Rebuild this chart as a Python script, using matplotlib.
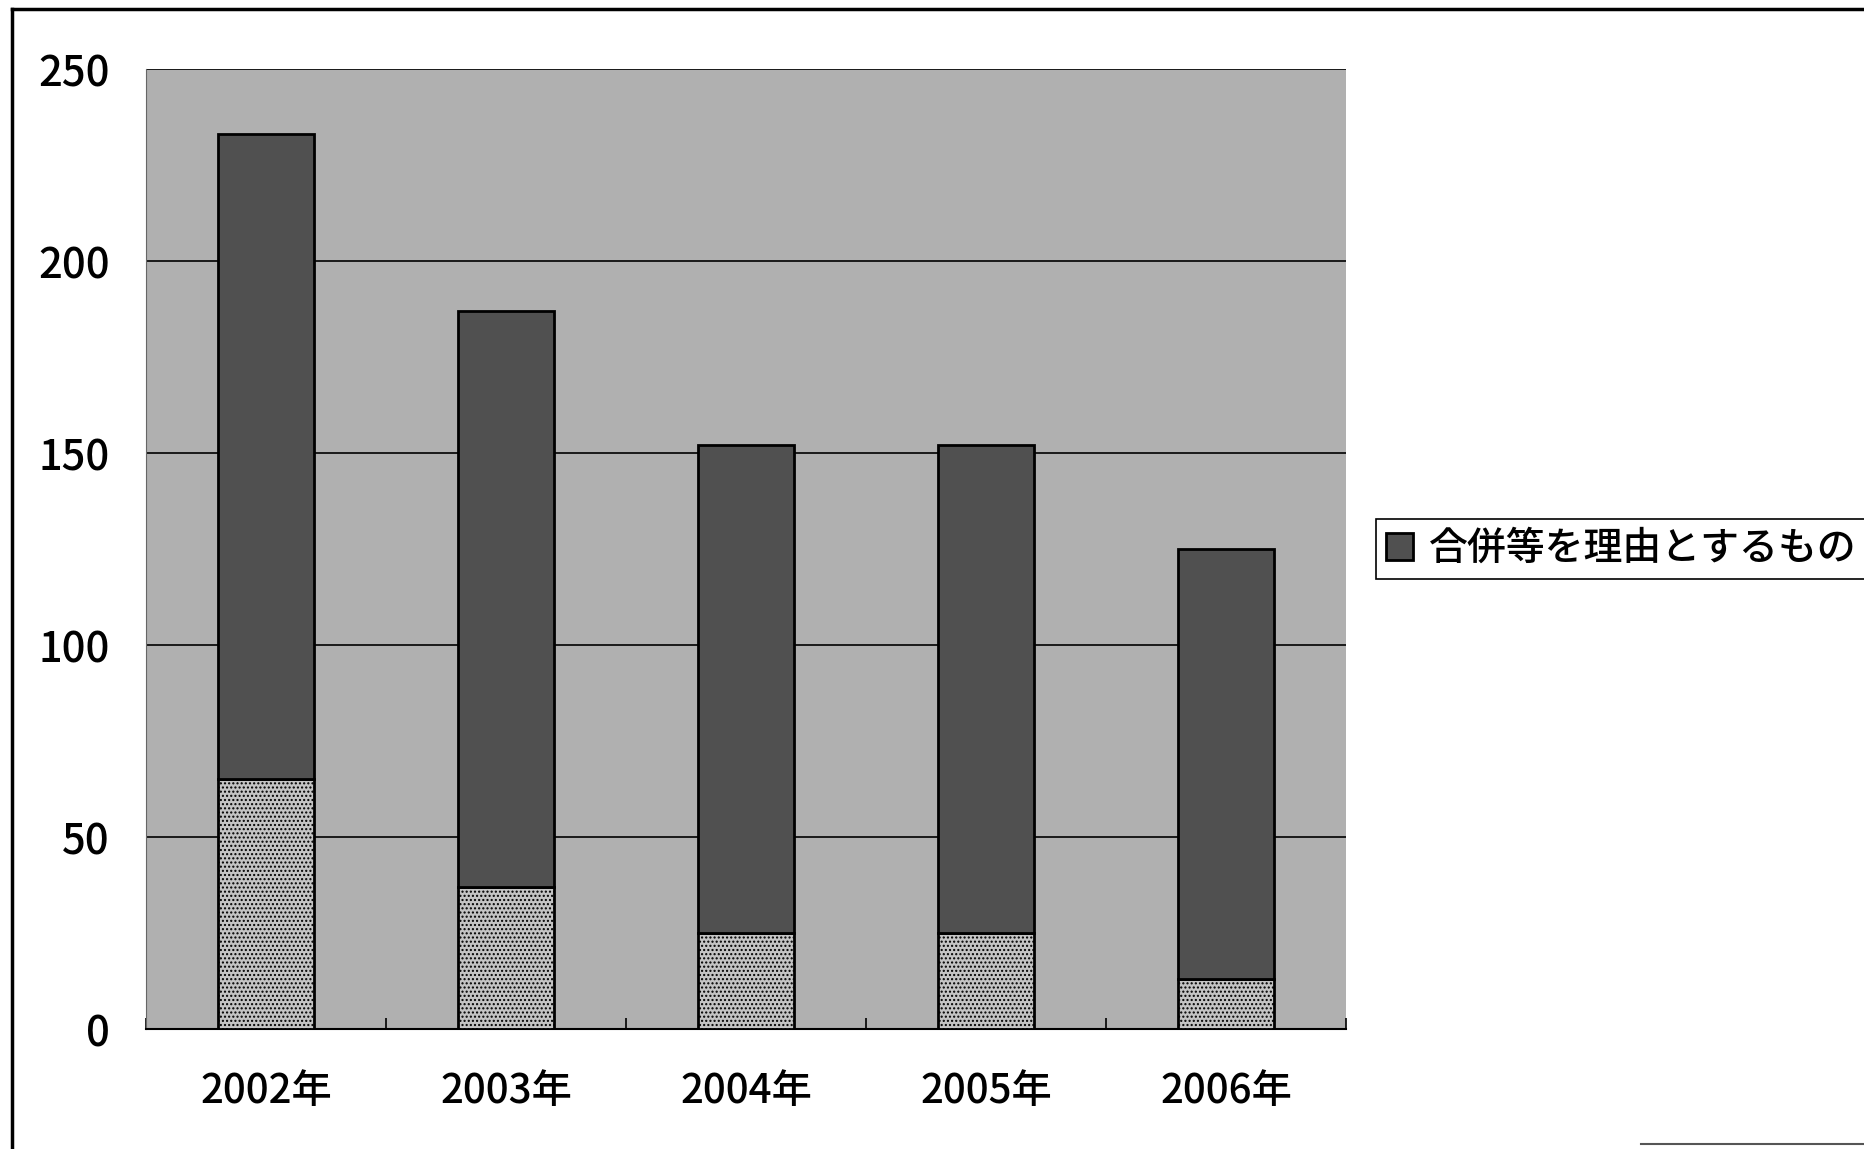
import matplotlib.pyplot as plt
import numpy as np

plt.rcParams['font.family'] = ['Noto Sans CJK JP', 'DejaVu Sans']
plt.rcParams['font.weight'] = 'medium'
plt.rcParams['hatch.color'] = '#9a9a9a'

years = ['2002年', '2003年', '2004年', '2005年', '2006年']
# bottom (light) segment and top (dark) segment
other = [65, 37, 25, 25, 13]
merger = [168, 150, 127, 127, 112]
legend_label = '合併等を理由とするもの'

fig = plt.figure(figsize=(18.65, 11.49), dpi=100)
ax = fig.add_axes([0.0783, 0.1044, 0.6434, 0.8355])
ax.set_facecolor('#b0b0b0')

x = np.arange(len(years))
ax.bar(x, other, width=0.4, color='#c4c4c4', edgecolor='black', linewidth=2,
       hatch='....', zorder=3)
ax.bar(x, merger, width=0.4, bottom=other, color='#505050', edgecolor='black',
       linewidth=2, zorder=3, label=legend_label)

ax.set_xlim(-0.5, len(years) - 0.5)
ax.set_ylim(0, 250)
ax.set_yticks([0, 50, 100, 150, 200, 250])
ax.yaxis.grid(True, color='black', linewidth=1.2, zorder=1)
ax.set_axisbelow(True)

ax.set_xticks(x)
ax.set_xticklabels(years)
ax.set_xticks(np.arange(len(years) + 1) - 0.5, minor=True)
ax.tick_params(axis='x', which='major', length=0, pad=30, labelsize=29)
ax.tick_params(axis='x', which='minor', direction='in', length=8, width=1.2)
ax.tick_params(axis='y', length=0, pad=26, labelsize=30)

for s in ['top', 'right']:
    ax.spines[s].set_visible(False)
ax.spines['left'].set_color('#666666')
ax.spines['bottom'].set_linewidth(1.5)

leg = fig.legend(loc='upper left', bbox_to_anchor=(0.738, 0.548), fontsize=28,
                 frameon=True, fancybox=False, edgecolor='black', framealpha=1,
                 handlelength=0.7, handleheight=0.7, handletextpad=0.4,
                 borderpad=0.25, borderaxespad=0)
leg.get_frame().set_linewidth(1.2)

# outer frame of the figure (left and top edges visible)
fig.add_artist(plt.Line2D([0.0065, 0.0065], [0, 0.992], color='black', lw=2.5))
fig.add_artist(plt.Line2D([0.0065, 1], [0.992, 0.992], color='black', lw=2.5))
fig.add_artist(plt.Line2D([0.88, 1], [0.004, 0.004], color='#555555', lw=1.5))

fig.savefig('out.png', dpi=100)
